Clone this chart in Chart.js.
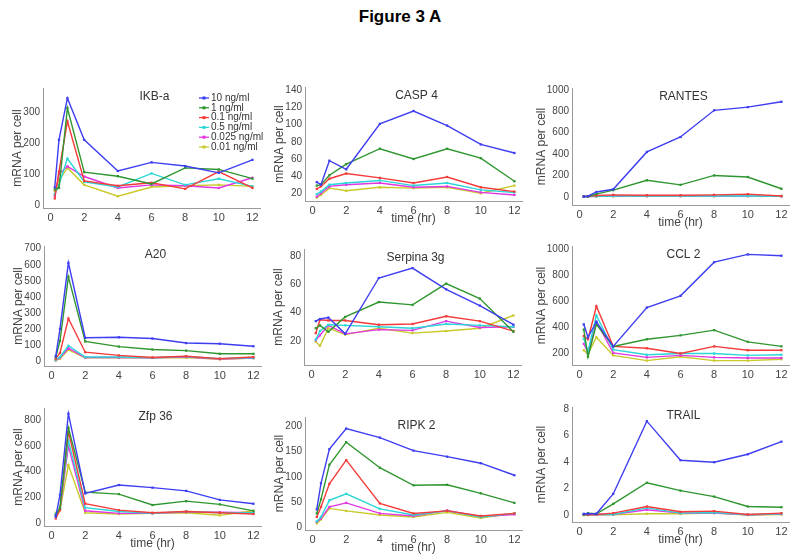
<!DOCTYPE html>
<html>
<head>
<meta charset="utf-8">
<script src="https://cdn.jsdelivr.net/npm/chart.js@4/dist/chart.umd.min.js"></script>
<style>
body { margin: 0; background: #fff; }
#wrap { position: relative; width: 800px; height: 555px; overflow: hidden; font-family: Arial, "Liberation Sans", sans-serif; }
#fig { position: absolute; top: 7px; left: 0; width: 800px; text-align: center; font-weight: bold; font-size: 17px; line-height: 20px; color: #000; }
canvas { position: absolute; }
</style>
</head>
<body>
<div id="wrap"><div id="fig">Figure 3 A</div></div>
<script>
// time points (hr) and doses
var times = [0.25, 0.5, 1, 2, 4, 6, 8, 10, 12];
var doses = ['10 ng/ml', '1 ng/ml', '0.1 ng/ml', '0.5 ng/ml', '0.025 ng/ml', '0.01 ng/ml'];
var xTicks = [0, 2, 4, 6, 8, 10, 12];

// one row per dose, same order as doses
var ikba = [
    [57, 211, 346, 211, 110, 138, 126, 104, 146],
    [50, 55, 314, 106, 93, 68, 120, 115, 85],
    [21, 108, 271, 78, 62, 72, 52, 108, 55],
    [35, 65, 150, 75, 58, 102, 65, 85, 60],
    [30, 100, 125, 92, 55, 65, 62, 55, 88],
    [45, 80, 120, 65, 28, 58, 62, 65, 60]
];
var casp4 = [
    [33, 30, 58, 48, 101, 116, 99, 77, 67],
    [29, 30, 41, 54, 72, 60, 72, 61, 34],
    [25, 28, 37, 43, 38, 32, 39, 27, 22],
    [19, 22, 30, 32, 35, 29, 32, 24, 21],
    [16, 20, 28, 30, 32, 27, 28, 21, 18],
    [15, 18, 26, 23, 27, 26, 27, 20, 29]
];
var rantes = [
    [2, 5, 45, 70, 420, 560, 810, 840, 890],
    [2, 4, 25, 62, 155, 112, 200, 185, 75],
    [3, 5, 12, 18, 15, 15, 18, 25, 8],
    [1, 2, 5, 8, 8, 8, 8, 8, 5],
    [1, 2, 4, 6, 6, 6, 6, 6, 4],
    [1, 2, 4, 5, 5, 6, 6, 5, 4]
];
var a20 = [
    [30, 200, 612, 145, 148, 140, 112, 108, 92],
    [25, 125, 525, 122, 90, 72, 65, 45, 45],
    [15, 50, 265, 55, 35, 22, 30, 15, 25],
    [8, 25, 95, 25, 25, 20, 28, 15, 20],
    [5, 20, 80, 22, 22, 20, 25, 12, 18],
    [3, 15, 70, 20, 20, 20, 22, 10, 18]
];
var serpina3g = [
    [34, 35.5, 36.5, 25, 64.5, 71.5, 56.5, 45, 31.5],
    [29, 31, 26.5, 37, 47.5, 45.5, 60.5, 50, 26.5],
    [25.5, 35, 34.5, 34.5, 31.5, 32, 37.5, 34, 27],
    [21, 27, 31.5, 31, 30, 29, 32, 31, 30],
    [20.5, 24, 31, 25, 28, 27.5, 34, 29.5, 30],
    [19.5, 16.5, 29, 24.5, 29, 25.5, 27, 29, 38]
];
var ccl2 = [
    [420, 320, 440, 250, 550, 640, 900, 960, 950],
    [380, 170, 420, 250, 305, 335, 375, 285, 250],
    [330, 305, 560, 250, 235, 195, 250, 220, 220],
    [310, 210, 490, 225, 185, 195, 195, 180, 185],
    [270, 200, 440, 200, 165, 180, 165, 160, 160],
    [220, 190, 320, 180, 140, 170, 140, 140, 150]
];
var zfp36 = [
    [50, 220, 850, 230, 295, 275, 250, 180, 150],
    [60, 120, 740, 240, 225, 140, 170, 145, 95],
    [35, 100, 710, 150, 100, 80, 90, 80, 70],
    [70, 110, 640, 120, 90, 75, 90, 80, 80],
    [60, 110, 600, 95, 75, 75, 85, 85, 80],
    [80, 100, 450, 80, 70, 75, 80, 60, 95]
];
var ripk2 = [
    [35, 87, 155, 196, 178, 152, 140, 127, 103],
    [27, 55, 124, 169, 118, 83, 84, 67, 48],
    [20, 40, 86, 133, 47, 27, 32, 22, 27],
    [11, 20, 53, 66, 36, 24, 32, 20, 27],
    [10, 17, 40, 48, 27, 22, 33, 21, 25],
    [7, 15, 37, 32, 24, 20, 29, 18, 27]
];
var trail = [
    [0.1, 0.1, 0.1, 1.6, 7.1, 4.15, 4.0, 4.6, 5.55],
    [0.05, 0.15, 0.1, 0.85, 2.45, 1.85, 1.4, 0.65, 0.6],
    [0.05, 0.05, 0.05, 0.15, 0.65, 0.25, 0.3, 0.05, 0.15],
    [0.02, 0.05, 0.05, 0.05, 0.55, 0.15, 0.2, 0.03, 0.1],
    [0.02, 0.03, 0.05, 0.05, 0.4, 0.15, 0.15, 0.03, 0.08],
    [0, -0.02, 0.02, 0.02, 0.1, 0.1, 0.15, 0, 0.05]
];

var geneNames = ['IKB-a', 'CASP 4', 'RANTES', 'A20', 'Serpina 3g', 'CCL 2', 'Zfp 36', 'RIPK 2', 'TRAIL'];
var geneData = [ikba, casp4, rantes, a20, serpina3g, ccl2, zfp36, ripk2, trail];
var yTickLists = [
    [0, 100, 200, 300],
    [20, 40, 60, 80, 100, 120, 140],
    [0, 200, 400, 600, 800, 1000],
    [0, 100, 200, 300, 400, 500, 600, 700],
    [20, 40, 60, 80],
    [200, 400, 600, 800, 1000],
    [0, 200, 400, 600, 800],
    [0, 50, 100, 150, 200],
    [0, 2, 4, 6, 8]
];
var yRanges = [
    [-10, 379], [11, 144], [-77, 1019],
    [-31, 717], [3, 85], [106, 1025],
    [-23, 894], [-6, 219], [-0.52, 8.17]
];

// layout (plot rectangle in page px: left, top, right, bottom)
var boxes = [
    [43, 87, 260, 208], [305, 86, 522, 201], [572, 87, 789, 205],
    [44, 245, 261, 366], [304, 248, 521, 365], [572, 245, 789, 365],
    [44, 407, 261, 526], [305, 416, 522, 530], [572, 406, 789, 522]
];
var showXTitle = [false, true, true, false, false, false, true, true, true];
var colors = ['#3d3df2', '#2f962f', '#f53a3a', '#2ad6d6', '#e236e2', '#c9c92a'];

var yAxisW = 45, xAxisH = 28, padT = 8, padR = 8;
var fontFam = 'Arial, "Liberation Sans", sans-serif';

var panelText = {
    id: 'panelText',
    afterDraw: function(chart, args, opts) {
        var ctx = chart.ctx, a = chart.chartArea;
        ctx.save();
        ctx.fillStyle = '#333';
        ctx.font = '12px ' + fontFam;
        ctx.textAlign = 'center';
        ctx.textBaseline = 'middle';
        ctx.fillText(opts.text, (a.left + a.right) / 2 + 3, a.top + 9);
        if (opts.legend) {
            ctx.font = '10px ' + fontFam;
            ctx.textAlign = 'left';
            for (var i = 0; i < doses.length; i++) {
                var y = a.top + 10 + i * 9.8;
                var x0 = a.left + 156;
                ctx.strokeStyle = colors[i];
                ctx.fillStyle = colors[i];
                ctx.lineWidth = 1.3;
                ctx.beginPath();
                ctx.moveTo(x0, y);
                ctx.lineTo(x0 + 10, y);
                ctx.stroke();
                ctx.fillRect(x0 + 3.5, y - 1.5, 3, 3);
                ctx.fillStyle = '#333';
                ctx.fillText(doses[i], x0 + 12, y);
            }
        }
        ctx.restore();
    }
};

var wrap = document.getElementById('wrap');

geneData.forEach(function(rows, p) {
    var b = boxes[p];
    var cv = document.createElement('canvas');
    var w = yAxisW + (b[2] - b[0]) + padR;
    var h = padT + (b[3] - b[1]) + xAxisH;
    cv.width = w; cv.height = h;
    cv.style.left = (b[0] - yAxisW) + 'px';
    cv.style.top = (b[1] - padT) + 'px';
    cv.style.width = w + 'px';
    cv.style.height = h + 'px';
    wrap.appendChild(cv);

    var yt = yTickLists[p];
    new Chart(cv, {
        type: 'line',
        data: {
            datasets: rows.map(function(vals, i) {
                return {
                    label: doses[i],
                    data: times.map(function(t, k) { return { x: t, y: vals[k] }; }),
                    borderColor: colors[i],
                    backgroundColor: colors[i],
                    borderWidth: 1.4,
                    pointStyle: 'rect',
                    pointRadius: 1.6,
                    pointBorderWidth: 0,
                    tension: 0
                };
            })
        },
        options: {
            responsive: false,
            animation: false,
            events: [],
            layout: { padding: { top: padT, right: padR, left: 0, bottom: 0 } },
            plugins: {
                legend: { display: false },
                tooltip: { enabled: false },
                panelText: { text: geneNames[p], legend: p === 0 }
            },
            scales: {
                x: {
                    type: 'linear',
                    min: -0.45,
                    max: 12.45,
                    afterBuildTicks: function(s) { s.ticks = xTicks.map(function(v) { return { value: v }; }); },
                    afterFit: function(s) { s.height = xAxisH; },
                    grid: { drawOnChartArea: false, drawTicks: false },
                    border: { color: '#9a9a9a', width: 1 },
                    ticks: {
                        autoSkip: false, maxRotation: 0, padding: 3, color: '#444',
                        font: { size: 11, family: fontFam },
                        callback: function(v) { return String(v); }
                    },
                    title: {
                        display: showXTitle[p],
                        text: 'time (hr)',
                        color: '#444',
                        font: { size: 12, family: fontFam },
                        padding: { top: 0, bottom: 3 }
                    }
                },
                y: {
                    type: 'linear',
                    min: yRanges[p][0],
                    max: yRanges[p][1],
                    afterBuildTicks: function(s) { s.ticks = yt.map(function(v) { return { value: v }; }); },
                    afterFit: function(s) { s.width = yAxisW; },
                    grid: { drawOnChartArea: false, drawTicks: false },
                    border: { color: '#9a9a9a', width: 1 },
                    ticks: {
                        autoSkip: false, padding: 3, color: '#444',
                        font: { size: 10, family: fontFam },
                        callback: function(v) { return String(v); }
                    },
                    title: {
                        display: true,
                        text: 'mRNA per cell',
                        color: '#444',
                        font: { size: 12, family: fontFam },
                        padding: { top: (p % 3 === 2) ? 7 : 12, bottom: 0 }
                    }
                }
            }
        },
        plugins: [panelText]
    });
});
</script>
</body>
</html>
